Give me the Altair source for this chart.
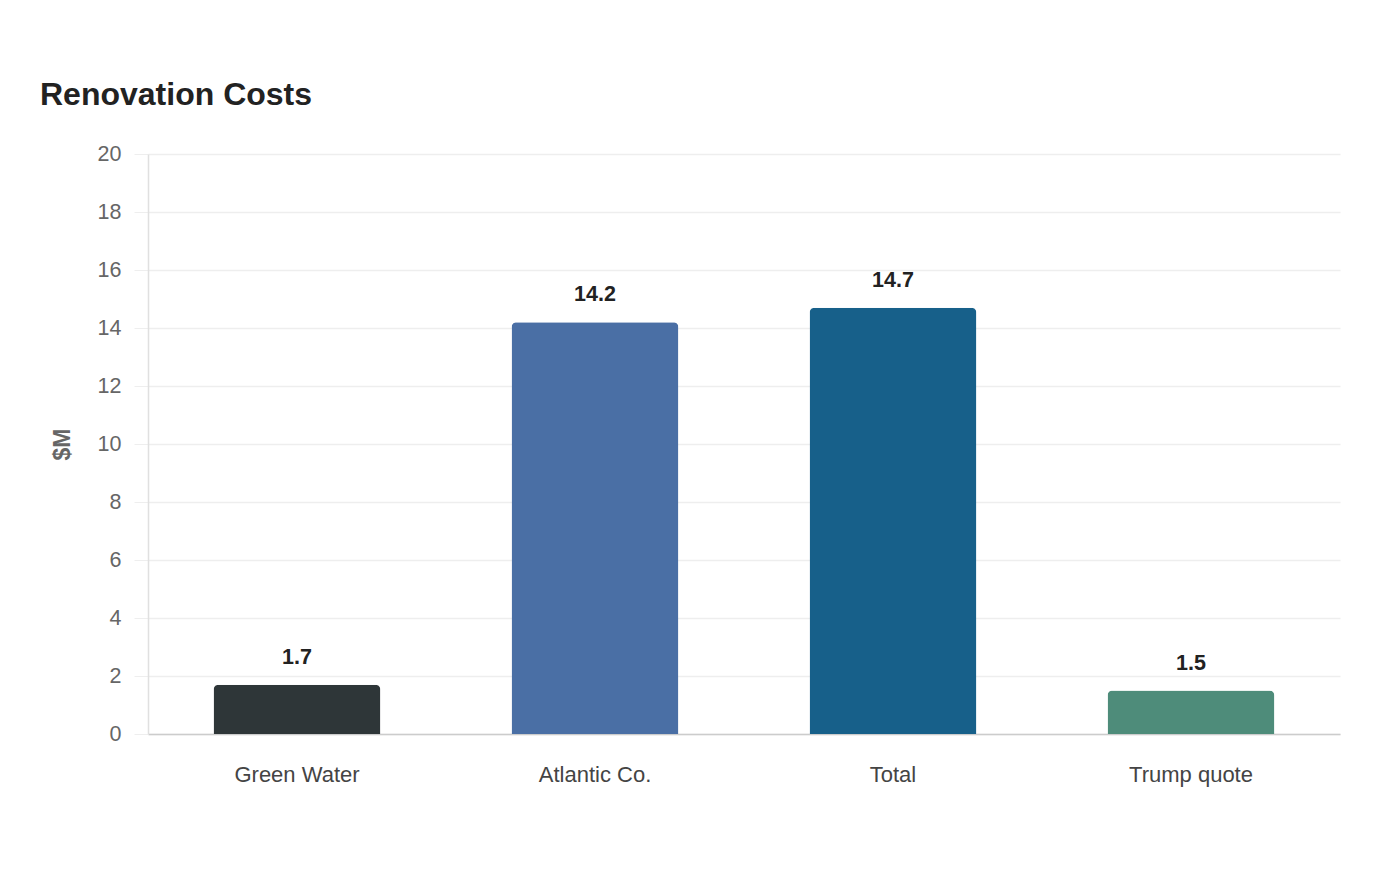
import altair as alt
import pandas as pd

categories = ["Green Water", "Atlantic Co.", "Total", "Trump quote"]
values = [1.7, 14.2, 14.7, 1.5]
colors = ["#2e3638", "#4a6fa5", "#17608a", "#4e8c7a"]

df = pd.DataFrame({"name": categories, "cost": values, "color": colors})

x_enc = alt.X(
    "name:N",
    sort=categories,
    scale=alt.Scale(paddingInner=0.44, paddingOuter=0.22),
    axis=alt.Axis(
        title=None,
        labelAngle=0,
        labelFont="Liberation Sans",
        labelFontSize=22,
        labelColor="#444444",
        labelPadding=30,
        ticks=False,
        domainColor="#cccccc",
        domainWidth=1.5,
        grid=False,
    ),
)

y_enc = alt.Y(
    "cost:Q",
    scale=alt.Scale(domain=[0, 20]),
    axis=alt.Axis(
        title="$M",
        values=list(range(0, 21, 2)),
        titleFont="Liberation Sans",
        titleFontSize=23,
        titleFontWeight="bold",
        titleColor="#666666",
        titleX=-86,
        titleY=290,
        titleAngle=270,
        titleAlign="center",
        titleBaseline="middle",
        labelFont="Liberation Sans",
        labelFontSize=21.5,
        labelColor="#666666",
        labelPadding=13,
        tickSize=14,
        tickColor="#eeeeee",
        gridColor="#eeeeee",
        gridWidth=1.5,
        domainColor="#e0e0e0",
        domainWidth=1.5,
    ),
)

bars = alt.Chart(df).mark_bar(cornerRadiusTopLeft=5, cornerRadiusTopRight=5).encode(
    x=x_enc,
    y=y_enc,
    color=alt.Color("color:N", scale=None),
)

labels = alt.Chart(df).mark_text(
    font="Liberation Sans",
    fontSize=21.5,
    fontWeight="bold",
    color="#222222",
    baseline="alphabetic",
    dy=-21,
).encode(
    x=alt.X("name:N", sort=categories),
    y=alt.Y("cost:Q"),
    text=alt.Text("cost:Q", format=".1f"),
)

chart = (
    alt.layer(bars, labels)
    .properties(
        width=1192,
        height=580,
        autosize=alt.AutoSizeParams(type="none"),
        padding={"left": 148, "top": 154, "right": 60, "bottom": 146},
        title=alt.TitleParams(
            "Renovation Costs",
            anchor="start",
            frame="group",
            dx=-108,
            offset=31,
            font="Liberation Sans",
            fontSize=32,
            fontWeight="bold",
            color="#222222",
        ),
        background="white",
    )
    .configure_view(stroke=None)
)

chart.save("out.html", embed_options={"renderer": "svg", "actions": False})
